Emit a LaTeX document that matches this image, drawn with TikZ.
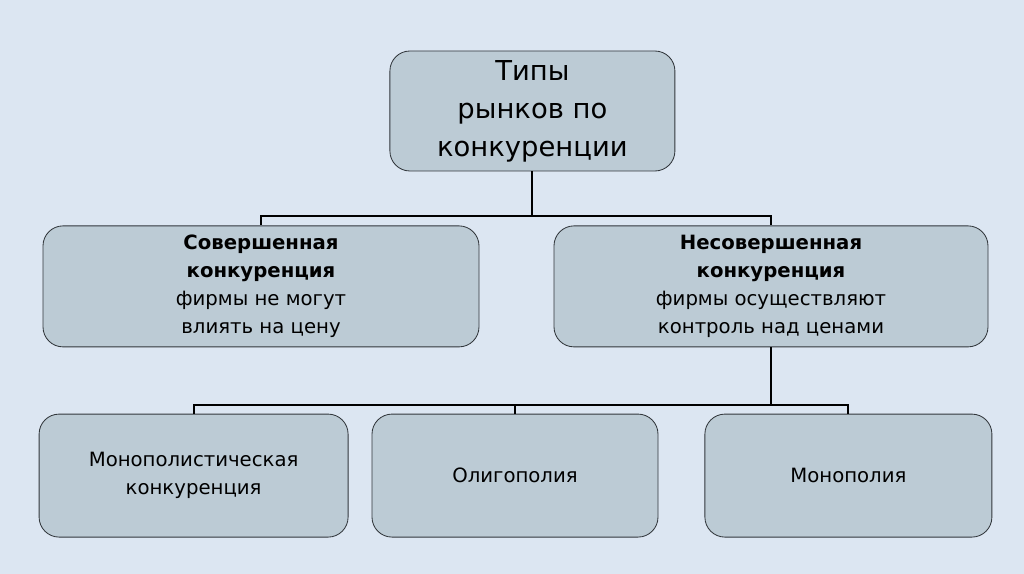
\documentclass[tikz,border=0pt]{standalone}
\usepackage{fontspec}
\setmainfont{DejaVu Sans}
\usepackage{xcolor}
\usepackage{tikz}
\usetikzlibrary{positioning}

\definecolor{fondo}{RGB}{220,230,242}
\definecolor{caja}{RGB}{188,203,213}
\definecolor{borde}{RGB}{50,55,60}

\begin{document}
\begin{tikzpicture}[every node/.style={rectangle, rounded corners=0.5cm, draw=borde, line width=0.6pt, fill=caja, align=center, font=\fontsize{14}{20}\selectfont}]

        \fill[fondo] (0,0) rectangle (25.6,14.35);
        \useasboundingbox (0,0) rectangle (25.6,14.35);

        % Nodos
        \node[minimum width=7.125cm, minimum height=3cm, font=\fontsize{19.5}{27}\selectfont] (top) at (13.31,11.575) {Типы\\рынков по\\конкуренции};
        \node[minimum width=10.9cm, minimum height=3.025cm] (perfect) at (6.525,7.19) {\textbf{Совершенная}\\\textbf{конкуренция}\\фирмы не могут\\влиять на цену};
        \node[minimum width=10.85cm, minimum height=3.025cm] (imperfect) at (19.275,7.19) {\textbf{Несовершенная}\\\textbf{конкуренция}\\фирмы осуществляют\\контроль над ценами};
        \node[minimum width=7.725cm, minimum height=3.075cm] (monocomp) at (4.84,2.46) {Монополистическая\\конкуренция};
        \node[minimum width=7.15cm, minimum height=3.075cm] (oligo) at (12.875,2.46) {Олигополия};
        \node[minimum width=7.175cm, minimum height=3.075cm] (mono) at (21.21,2.46) {Монополия};

        \coordinate (bar1) at (13.31,8.95);
        \coordinate (bar2) at (19.275,4.225);

        % Aristas
        \draw[line width=1.5pt] (top.south) -- (top.south |- bar1) -| (perfect.north);
        \draw[line width=1.5pt] (top.south |- bar1) -| (imperfect.north);
        \draw[line width=1.5pt] (imperfect.south) -- (imperfect.south |- bar2) -| (monocomp.north);
        \draw[line width=1.5pt] (imperfect.south |- bar2) -| (oligo.north);
        \draw[line width=1.5pt] (imperfect.south |- bar2) -| (mono.north);

    \end{tikzpicture}
\end{document}
